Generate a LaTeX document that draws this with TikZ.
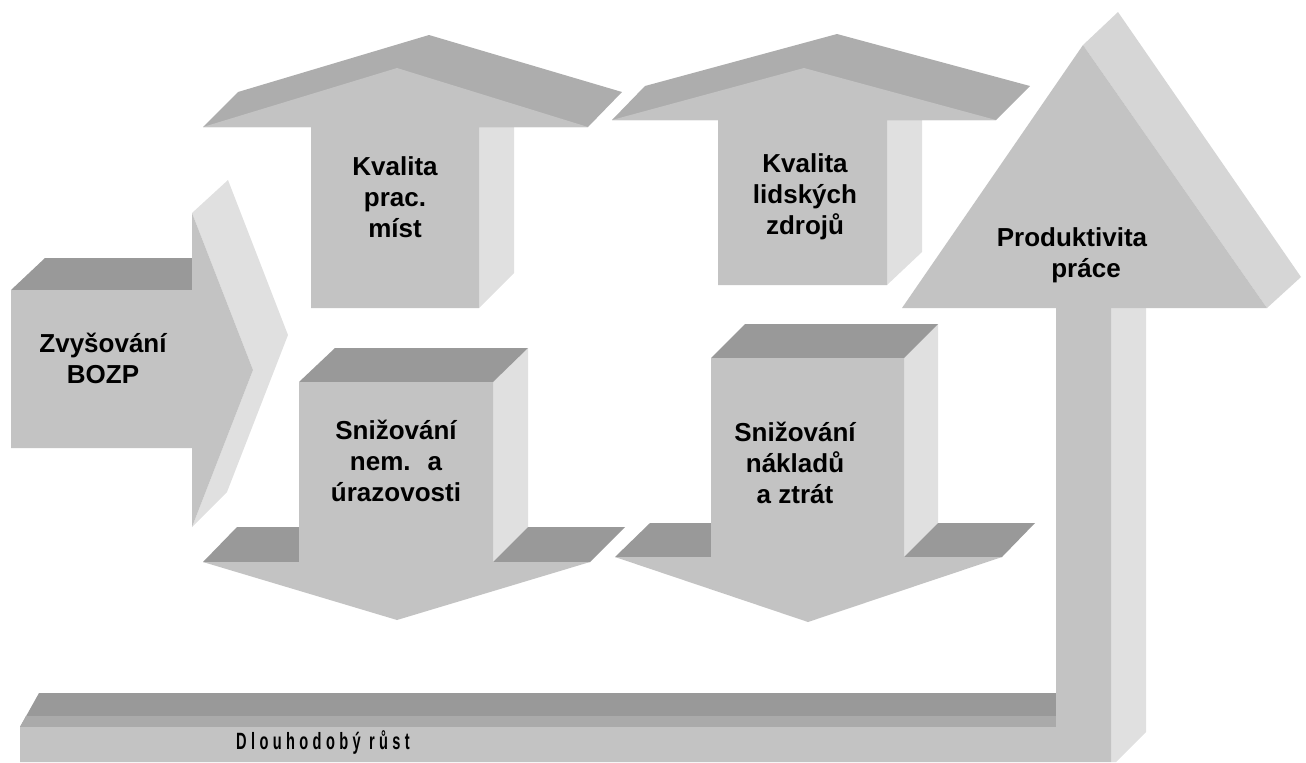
\documentclass[tikz,border=0pt]{standalone}
\usepackage{fontspec}
\setmainfont{Liberation Sans}
\newfontfamily\barfont[LetterSpace=30]{Liberation Sans}
\usetikzlibrary{positioning}
\definecolor{frontgray}{HTML}{C3C3C3}
\definecolor{topgray}{HTML}{999999}
\definecolor{stripgray}{HTML}{AAAAAA}
\definecolor{headgray}{HTML}{ADADAD}
\definecolor{sidegray}{HTML}{E0E0E0}
\definecolor{tipgray}{HTML}{D6D6D6}
\tikzset{frontface/.style={fill=frontgray},topface/.style={fill=topgray},headface/.style={fill=headgray}}
\tikzset{sideface/.style={fill=sidegray},tipface/.style={fill=tipgray},stripface/.style={fill=stripgray}}
\tikzset{boxtext/.style={font=\bfseries\fontsize{14.8}{17.6}\selectfont,align=center,inner sep=0pt}}

\begin{document}
\begin{tikzpicture}[x=0.02cm,y=-0.02cm]
        \useasboundingbox (0,0) rectangle (1306,762);
        % Zvysovani BOZP
        \fill[sideface] (192,213) -- (228,180) -- (288,335) -- (227,492) -- (192,527) -- (253,370) -- cycle;
        \fill[topface] (11,290) -- (45,258) -- (192,258) -- (192,290) -- cycle;
        \fill[frontface] (11,290) -- (192,290) -- (192,213) -- (253,370) -- (192,527) -- (192,448) -- (11,448) -- cycle;
        % up arrows
        \fill[sideface] (479,127) -- (514,92) -- (514,273) -- (479,308) -- cycle;
        \fill[headface] (203,127) -- (238,92) -- (429,35) -- (622,92) -- (588,127) -- cycle;
        \fill[frontface] (311,308) -- (311,127) -- (203,127) -- (397,68) -- (588,127) -- (479,127) -- (479,308) -- cycle;
        \fill[sideface] (887,120) -- (922,86) -- (922,252) -- (887,285) -- cycle;
        \fill[headface] (612,120) -- (645,86) -- (837,34) -- (1030,86) -- (996,120) -- cycle;
        \fill[frontface] (718,285) -- (718,120) -- (612,120) -- (804,68) -- (996,120) -- (887,120) -- (887,285) -- cycle;
        % down arrows
        \fill[sideface] (493,382) -- (528,348) -- (528,527) -- (493,562) -- cycle;
        \fill[topface] (299,382) -- (335,348) -- (528,348) -- (493,382) -- cycle;
        \fill[topface] (203,562) -- (237,527) -- (299,527) -- (299,562) -- cycle;
        \fill[topface] (493,562) -- (528,527) -- (625,527) -- (590,562) -- cycle;
        \fill[frontface] (299,382) -- (493,382) -- (493,562) -- (590,562) -- (397,620) -- (203,562) -- (299,562) -- cycle;
        \fill[sideface] (904,358) -- (938,324) -- (938,523) -- (904,557) -- cycle;
        \fill[topface] (711,358) -- (745,324) -- (938,324) -- (904,358) -- cycle;
        \fill[topface] (615,557) -- (650,523) -- (711,523) -- (711,557) -- cycle;
        \fill[topface] (904,557) -- (938,523) -- (1035,523) -- (1002,557) -- cycle;
        \fill[frontface] (711,358) -- (904,358) -- (904,557) -- (1002,557) -- (808,622) -- (615,557) -- (711,557) -- cycle;
        % Dlouhodoby rust + Produktivita prace
        \fill[sideface] (1111,308) -- (1146,273) -- (1146,732) -- (1116,762) -- (1111,762) -- cycle;
        \fill[tipface] (1083,45) -- (1118,12) -- (1301,277) -- (1267,308) -- cycle;
        \fill[topface] (20,727) -- (39,693) -- (1056,693) -- (1056,727) -- cycle;
        \fill[stripface] (26,716) -- (1056,716) -- (1056,727) -- (20,727) -- cycle;
        \fill[frontface] (20,727) -- (1056,727) -- (1056,308) -- (1111,308) -- (1111,762) -- (20,762) -- cycle;
        \fill[frontface] (902,308) -- (1083,45) -- (1267,308) -- cycle;

        \node[boxtext] (bozp) at (103,358) {Zvyšování\\BOZP};
        \node[boxtext] (mista) at (395,197) {Kvalita\\prac.\\míst};
        \node[boxtext] (zdroje) at (805,197) {Kvalita\\lidských\\zdrojů};
        \node[boxtext] (uraz) at (396,461) {Snižování\\nem.~ a\\úrazovosti};
        \node[boxtext] (naklady) at (795,463) {Snižování\\nákladů\\a ztrát};
        \node[boxtext,align=left] (prod) at (1072,255) {Produktivita\\\hspace*{31pt}práce};
        \node[inner sep=0pt] (rust) at (323,742) {\scalebox{0.62}[1]{\barfont\bfseries\fontsize{13.4}{16}\selectfont Dlouhodobý růst}};
\end{tikzpicture}
\end{document}
